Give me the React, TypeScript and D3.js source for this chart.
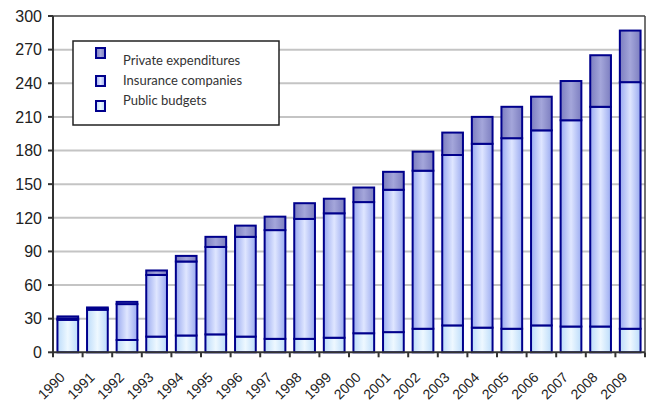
import React from "react";
import * as d3 from "d3";

const years = ["1990","1991","1992","1993","1994","1995","1996","1997","1998","1999","2000","2001","2002","2003","2004","2005","2006","2007","2008","2009"];
const publicBudgets = [29, 38, 11, 14, 15, 16, 14, 12, 12, 13, 17, 18, 21, 24, 22, 21, 24, 23, 23, 21];
const insuranceCompanies = [1, 1, 32, 55, 66, 78, 89, 97, 107, 111, 117, 127, 141, 152, 164, 170, 174, 184, 196, 220];
const privateExpenditures = [2, 1, 2, 4, 5, 9, 10, 12, 14, 13, 13, 16, 17, 20, 24, 28, 30, 35, 46, 46];
const yTicks = [0, 30, 60, 90, 120, 150, 180, 210, 240, 270, 300];
const seriesNames = ["Public budgets", "Insurance companies", "Private expenditures"];

const W = 648, H = 408;
const M = { left: 53, right: 3, top: 16, bottom: 55 };

export default function App() {
  const x = d3.scaleBand<string>().domain(years).range([M.left, W - M.right]).paddingInner(0.3).paddingOuter(0.15);
  const xb = d3.scaleBand<string>().domain(years).range([M.left, W - M.right]);
  const y = d3.scaleLinear().domain([0, 300]).range([H - M.bottom - 0.7, M.top]);

  const rows = years.map((yr, i) => ({ year: yr, pub: publicBudgets[i], ins: insuranceCompanies[i], priv: privateExpenditures[i] }));
  const stack = d3.stack<any>().keys(["pub", "ins", "priv"])(rows);
  const fills = ["url(#gPub)", "url(#gIns)", "url(#gPriv)"];
  const stroke = "#00008c";
  const x0 = M.left, x1 = W - M.right, yb = y(0), yt = y(300);

  const legendItems = [
    { name: seriesNames[2], fill: "url(#gPriv)", sy: 48, ty: 65 },
    { name: seriesNames[1], fill: "url(#gIns)", sy: 76, ty: 85 },
    { name: seriesNames[0], fill: "url(#gPub)", sy: 101, ty: 105 },
  ];

  return (
    <svg width={W} height={H} style={{ position: "absolute", left: 0, top: 0, background: "#fff" }}>
      <defs>
        <linearGradient id="gPriv" x1="0" x2="1" y1="0" y2="0">
          <stop offset="0" stopColor="#7c7ec0" />
          <stop offset="0.5" stopColor="#a4a6da" />
          <stop offset="1" stopColor="#7c7ec0" />
        </linearGradient>
        <linearGradient id="gIns" x1="0" x2="1" y1="0" y2="0">
          <stop offset="0" stopColor="#9aaaf0" />
          <stop offset="0.5" stopColor="#dfe6ff" />
          <stop offset="1" stopColor="#9aaaf0" />
        </linearGradient>
        <linearGradient id="gPub" x1="0" x2="1" y1="0" y2="0">
          <stop offset="0" stopColor="#bcdcfa" />
          <stop offset="0.5" stopColor="#eef8ff" />
          <stop offset="1" stopColor="#bcdcfa" />
        </linearGradient>
      </defs>
      {yTicks.filter(t => t > 0 && t < 300).map(t => (
        <line key={t} x1={x0} x2={x1} y1={y(t)} y2={y(t)} stroke="#c4c4c4" strokeWidth={2} />
      ))}
      {stack.map((s, si) => (
        <g key={si}>
          {s.map((d: any, i: number) => {
            const h = y(d[0]) - y(d[1]);
            if (h <= 0) return null;
            return (
              <rect key={i} x={x(years[i])!} width={x.bandwidth()} y={y(d[1])} height={h}
                fill={fills[si]} stroke={stroke} strokeWidth={2} />
            );
          })}
        </g>
      ))}
      <line x1={x0} x2={x1} y1={yt} y2={yt} stroke="#444" strokeWidth={1.5} />
      <line x1={x1} x2={x1} y1={yt} y2={yb} stroke="#444" strokeWidth={1.5} />
      <line x1={x0} x2={x0} y1={yt} y2={yb} stroke="#333" strokeWidth={2} />
      <line x1={x0} x2={x1} y1={yb} y2={yb} stroke="#333" strokeWidth={2} />
      {yTicks.map(t => (
        <g key={t}>
          <line x1={x0 - 5} x2={x0} y1={y(t)} y2={y(t)} stroke="#333" strokeWidth={2} />
          <text x={42} y={y(t)} dy="0.36em" textAnchor="end" fontFamily="Liberation Sans, Arial, sans-serif" fontSize={16} fill="#222">{t}</text>
        </g>
      ))}
      {years.map((yr, i) => (
        <g key={yr}>
          <line x1={xb(yr)!} x2={xb(yr)!} y1={yb} y2={yb + 5} stroke="#333" strokeWidth={2} />
          {i === years.length - 1 && <line x1={x1} x2={x1} y1={yb} y2={yb + 5} stroke="#333" strokeWidth={2} />}
          <text transform={`translate(${xb(yr)! + xb.bandwidth() / 2 - 2},${yb + 26}) rotate(-45)`} textAnchor="end"
            fontFamily="Liberation Sans, Arial, sans-serif" fontSize={14} fill="#222">{yr}</text>
        </g>
      ))}
      <rect x={73} y={41} width={206} height={84} fill="#fff" stroke="#222" strokeWidth={1.5} />
      {legendItems.map(it => (
        <g key={it.name}>
          <rect x={96} y={it.sy} width={9} height={10} fill={it.fill} stroke={stroke} strokeWidth={2} />
          <text x={123} y={it.ty} fontFamily="Lato, Carlito, Calibri, sans-serif" fontSize={13} fill="#333">{it.name}</text>
        </g>
      ))}
    </svg>
  );
}
